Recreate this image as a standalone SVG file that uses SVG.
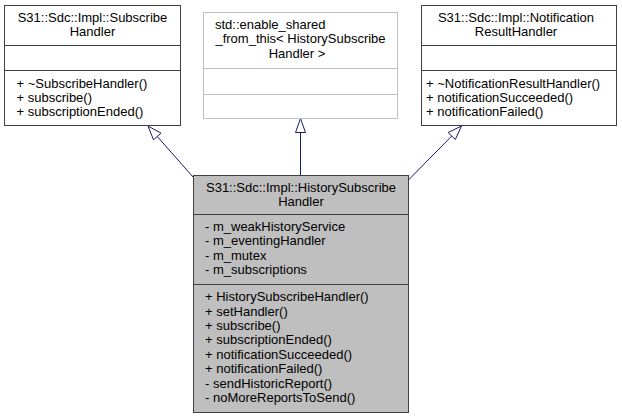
<svg xmlns="http://www.w3.org/2000/svg" width="622" height="419" viewBox="0 0 622 419">
<defs>
<style>
text{font-family:"Liberation Sans",Arial,sans-serif;font-size:13px;fill:#000}
.c{text-anchor:middle}
.box{fill:#fff;stroke:#404040;stroke-width:1}
.boxg{fill:#fff;stroke:#bfbfbf;stroke-width:1}
.main{fill:#bfbfbf;stroke:#404040;stroke-width:1}
.sep{stroke:#404040;stroke-width:1}
.sepg{stroke:#bfbfbf;stroke-width:1}
.edge{stroke:#191970;stroke-width:1;fill:none}
.head{stroke:#191970;stroke-width:1;fill:#fff}
</style>
</defs>
<rect width="622" height="419" fill="#fff"/>
<g id="connectors">
<line class="edge" x1="193" y1="177" x2="157.3" y2="136.5"/>
<polygon class="head" points="148,126 153.5,139.8 161,133.2"/>
<line class="edge" x1="300.5" y1="175" x2="300.5" y2="132.5"/>
<polygon class="head" points="300.5,118.5 295.5,132.5 305.5,132.5"/>
<line class="edge" x1="408.5" y1="180" x2="451.7" y2="136"/>
<polygon class="head" points="461.5,126 455.3,139.5 448.1,132.5"/>
</g>
<g id="SubscribeHandler">
<rect class="box" x="4.5" y="5.5" width="176" height="120"/>
<line class="sep" x1="4.5" y1="45.5" x2="180.5" y2="45.5"/>
<line class="sep" x1="4.5" y1="70.5" x2="180.5" y2="70.5"/>
<text class="c" x="92.5" y="22">S31::Sdc::Impl::Subscribe</text>
<text class="c" x="92.5" y="36.4">Handler</text>
<text x="16.5" y="87.5">+ ~SubscribeHandler()</text>
<text x="16.5" y="101.9">+ subscribe()</text>
<text x="16.5" y="116.3">+ subscriptionEnded()</text>
</g>
<g id="enable_shared_from_this">
<rect class="boxg" x="203.5" y="12.5" width="194" height="106"/>
<line class="sepg" x1="203.5" y1="68.5" x2="397.5" y2="68.5"/>
<line class="sepg" x1="203.5" y1="94.5" x2="397.5" y2="94.5"/>
<text x="215" y="29">std::enable_shared</text>
<text class="c" x="300.5" y="43.4">_from_this&lt; HistorySubscribe</text>
<text class="c" x="297" y="57.8">Handler &gt;</text>
</g>
<g id="NotificationResultHandler">
<rect class="box" x="421.5" y="5.5" width="195" height="120"/>
<line class="sep" x1="421.5" y1="45.5" x2="616.5" y2="45.5"/>
<line class="sep" x1="421.5" y1="70.5" x2="616.5" y2="70.5"/>
<text class="c" x="516" y="22">S31::Sdc::Impl::Notification</text>
<text class="c" x="516" y="36.4">ResultHandler</text>
<text x="426" y="87.5">+ ~NotificationResultHandler()</text>
<text x="426" y="101.9">+ notificationSucceeded()</text>
<text x="426" y="116.3">+ notificationFailed()</text>
</g>
<g id="HistorySubscribeHandler">
<rect class="main" x="193.5" y="175.5" width="215" height="237"/>
<line class="sep" x1="193.5" y1="214.5" x2="408.5" y2="214.5"/>
<line class="sep" x1="193.5" y1="284.5" x2="408.5" y2="284.5"/>
<text class="c" x="301" y="191.5">S31::Sdc::Impl::HistorySubscribe</text>
<text class="c" x="301" y="205.9">Handler</text>
<text x="205" y="231">- m_weakHistoryService</text>
<text x="205" y="245.4">- m_eventingHandler</text>
<text x="205" y="259.8">- m_mutex</text>
<text x="205" y="274.2">- m_subscriptions</text>
<text x="205" y="301.2">+ HistorySubscribeHandler()</text>
<text x="205" y="315.6">+ setHandler()</text>
<text x="205" y="330">+ subscribe()</text>
<text x="205" y="344.4">+ subscriptionEnded()</text>
<text x="205" y="358.8">+ notificationSucceeded()</text>
<text x="205" y="373.2">+ notificationFailed()</text>
<text x="205" y="387.6">- sendHistoricReport()</text>
<text x="205" y="402">- noMoreReportsToSend()</text>
</g>
</svg>
